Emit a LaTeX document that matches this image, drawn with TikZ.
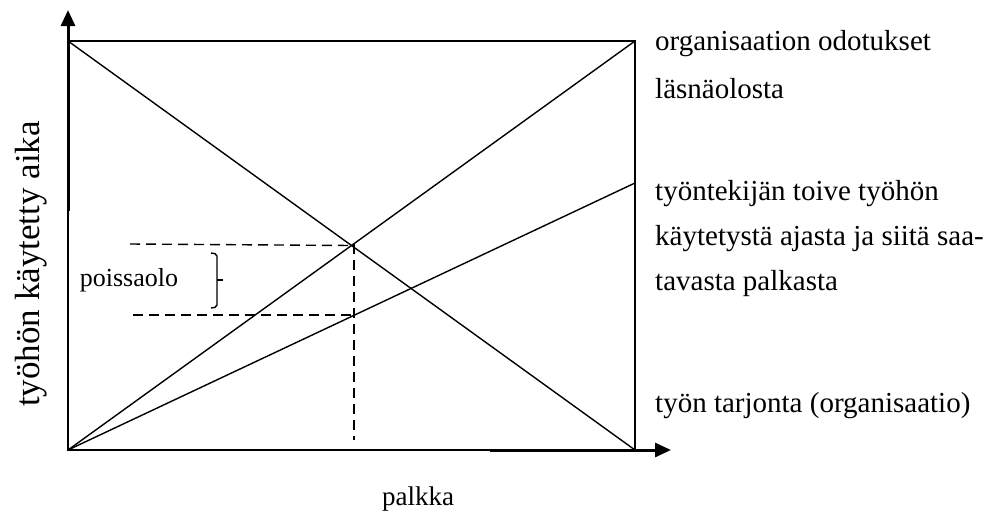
\documentclass[tikz,border=0pt]{standalone}
\usepackage{fontspec}
\setmainfont{Liberation Serif}
\usetikzlibrary{arrows.meta}
\begin{document}
\begin{tikzpicture}[x=1pt,y=-1pt,
  thinline/.style={line width=1.4pt},
  axisline/.style={line width=3pt,-{Triangle[length=16pt,width=14pt]}},
  dashline/.style={line width=1.4pt,dash pattern=on 10pt off 6pt},
  lbl/.style={font=\fontsize{29}{35}\selectfont,inner sep=0pt,anchor=base west},
  lblc/.style={font=\fontsize{26}{31}\selectfont,inner sep=0pt}]
\useasboundingbox (0,0) rectangle (996,517);
\coordinate (tl) at (68,41);
\coordinate (tr) at (635,41);
\coordinate (bl) at (68,450);
\coordinate (br) at (635,450);
\coordinate (wr) at (635,183);
\coordinate (ya) at (68,211);
\coordinate (yt) at (68,10);
\coordinate (xa) at (490,450);
\coordinate (xt) at (671,450);
\coordinate (cx) at (351.5,245.5);
\coordinate (d1) at (130,244);
\coordinate (d2) at (133,315);
\coordinate (p2) at (354,315);
\coordinate (vb) at (354,440);
% box
\draw[thinline] (tl) -- (tr) -- (br) -- (bl) -- cycle;
% axes
\draw[axisline] (ya) -- (yt);
\draw[axisline] (xa) -- (xt);
% diagonals
\draw[thinline] (tl) -- (br);
\draw[thinline] (bl) -- (tr);
\draw[thinline] (bl) -- (wr);
% dashed
\draw[dashline] (d1) -- (cx);
\draw[dashline] (d2) -- (p2);
\draw[dashline] (354,244) -- (vb);
% bracket
\draw[line width=1.4pt,rounded corners=2pt] (211,253) -- (217,254) -- (217,307) -- (211,308);
\draw[line width=1.4pt] (217,280) -- (223,280);
% labels
\node[lblc,anchor=base] (poiss) at (129,286) {poissaolo};
\node[lbl] (l1) at (655,50) {organisaation odotukset};
\node[lbl] (l2) at (655,98) {läsnäolosta};
\node[lbl] (l3) at (655,200) {työntekijän toive työhön};
\node[lbl] (l4) at (655,245) {käytetystä ajasta ja siitä saa-};
\node[lbl] (l5) at (655,290) {tavasta palkasta};
\node[lbl] (l6) at (655,412) {työn tarjonta (organisaatio)};
\node[font=\fontsize{27}{32}\selectfont,inner sep=0pt,anchor=base] (px) at (418,505) {palkka};
\node[font=\fontsize{35}{42}\selectfont,inner sep=0pt,rotate=90] (py) at (31,264) {työhön käytetty aika};
\end{tikzpicture}
\end{document}
